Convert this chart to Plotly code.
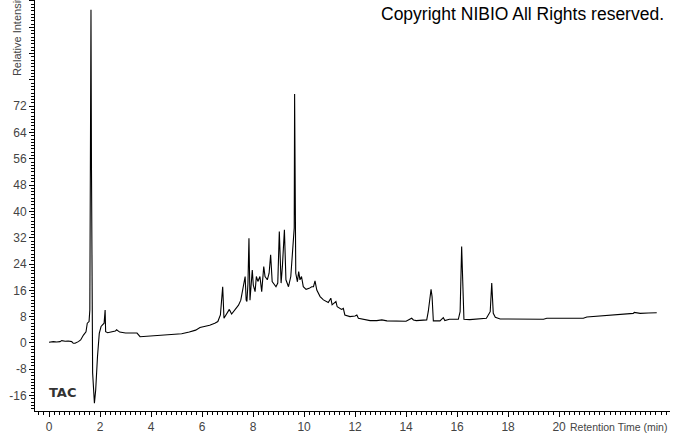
import plotly.graph_objects as go

# Retention time (min) and relative intensity
time_min = [
    0.00, 0.17, 0.30, 0.43, 0.50, 0.63, 0.75, 0.89, 0.95, 1.02, 1.15, 1.24, 1.35, 1.45, 1.50, 1.57,
    1.60, 1.625, 1.645, 1.665, 1.69, 1.71, 1.78, 1.83, 1.90, 1.97, 2.04, 2.16, 2.20, 2.22, 2.30,
    2.50, 2.60, 2.65, 2.77, 3.00, 3.18, 3.45, 3.57, 3.80, 4.00, 4.30, 4.60, 4.90, 5.20, 5.50,
    5.75, 5.92, 6.10, 6.30, 6.50, 6.62, 6.72, 6.81, 6.86, 6.95, 7.07, 7.16, 7.29, 7.43, 7.52,
    7.62, 7.69, 7.73, 7.76, 7.80, 7.84, 7.88, 7.92, 7.97, 8.01, 8.08, 8.13, 8.19, 8.27, 8.30,
    8.34, 8.42, 8.47, 8.56, 8.63, 8.69, 8.75, 8.90, 8.97, 9.03, 9.10, 9.15, 9.23, 9.29, 9.39,
    9.48, 9.54, 9.615, 9.63, 9.645, 9.675, 9.74, 9.79, 9.84, 9.90, 9.97, 10.08, 10.20, 10.30,
    10.37, 10.43, 10.50, 10.63, 10.76, 10.95, 11.05, 11.10, 11.25, 11.30, 11.47, 11.54, 11.60,
    11.80, 12.00, 12.07, 12.13, 12.39, 12.59, 12.85, 13.05, 13.25, 13.50, 13.76, 14.00, 14.22,
    14.29, 14.40, 14.68, 14.81, 14.87, 14.94, 14.98, 15.02, 15.07, 15.33, 15.46, 15.52, 15.70,
    16.05, 16.12, 16.18, 16.22, 16.27, 16.50, 16.77, 17.15, 17.30, 17.36, 17.42, 17.50, 17.69,
    18.00, 18.34, 18.80, 19.39, 19.52, 20.20, 20.95, 21.09, 21.70, 22.26, 22.60, 22.91, 22.95,
    23.18, 23.50, 23.83,
]
intensity = [
    0.2, 0.4, 0.3, 0.4, 0.7, 0.5, 0.6, 0.4, -0.1, -0.1, 0.4, 0.9, 2.4, 3.4, 6.0, 6.5,
    10.0, 65.8, 101.3, 52.6, 0.9, -9.1, -18.3, -14.3, -4.2, 2.9, 5.0, 6.0, 10.0, 3.4, 3.1,
    3.3, 3.6, 4.0, 3.3, 3.0, 3.0, 3.0, 1.9, 2.0, 2.1, 2.2, 2.4, 2.6, 2.8, 3.3,
    3.9, 4.7, 5.0, 5.4, 6.0, 6.5, 8.5, 17.1, 7.5, 8.5, 10.2, 8.8, 10.2, 11.5, 13.0,
    17.1, 20.2, 13.0, 12.6, 18.0, 31.8, 13.0, 17.1, 22.2, 17.6, 15.6, 20.2, 18.7, 20.2, 17.6,
    15.6, 23.2, 20.2, 19.2, 21.2, 26.8, 18.7, 17.1, 18.2, 33.9, 18.2, 23.2, 34.4, 19.2, 17.1,
    20.2, 27.3, 35.0, 75.7, 44.5, 21.2, 18.6, 21.7, 19.2, 20.2, 17.1, 16.3, 16.6, 17.1,
    17.1, 18.9, 16.1, 14.1, 13.1, 12.3, 13.6, 11.6, 12.6, 11.0, 10.2, 10.5, 8.5,
    8.0, 8.2, 8.5, 7.5, 7.2, 6.8, 6.8, 7.0, 6.7, 6.7, 6.5, 6.6, 7.5,
    7.0, 6.8, 6.8, 7.0, 9.5, 15.1, 16.3, 14.1, 6.7, 6.7, 7.7, 6.8, 7.2,
    7.2, 9.5, 29.3, 17.1, 7.2, 7.1, 7.2, 7.5, 9.5, 18.2, 9.0, 7.8, 7.3,
    7.3, 7.3, 7.3, 7.2, 7.5, 7.5, 7.5, 7.9, 8.2, 8.5, 8.7, 9.0, 9.3,
    9.0, 9.1, 9.2,
]

x_tick_vals = [0, 2, 4, 6, 8, 10, 12, 14, 16, 18, 20]
y_tick_vals = [-16, -8, 0, 8, 16, 24, 32, 40, 48, 56, 64, 72, 80, 88, 96, 104]
y_tick_text = ["-16", "-8", "0", "8", "16", "24", "32", "40", "48", "56", "64", "72", "", "", "", ""]

fig = go.Figure()
fig.add_trace(go.Scatter(
    x=time_min, y=intensity, mode="lines",
    line=dict(color="black", width=1.1), hoverinfo="skip", showlegend=False,
))

tick_font = dict(family="Arial, Liberation Sans, sans-serif", size=12, color="#444444")

fig.update_layout(
    width=673, height=433,
    margin=dict(l=35, r=3, t=0, b=22, autoexpand=False),
    paper_bgcolor="white", plot_bgcolor="white",
    showlegend=False,
    xaxis=dict(
        range=[-0.55, 24.35], showgrid=False, zeroline=False, automargin=False,
        showline=True, linecolor="black", linewidth=1,
        tickmode="array", tickvals=x_tick_vals,
        ticks="outside", ticklen=5, tickcolor="black", tickwidth=1,
        minor=dict(dtick=0.2, tick0=0, ticks="outside", ticklen=3, tickcolor="black", showgrid=False),
        tickfont=tick_font,
    ),
    yaxis=dict(
        range=[-20.7, 104.3], showgrid=False, zeroline=False, automargin=False,
        showline=True, linecolor="black", linewidth=1,
        tickmode="array", tickvals=y_tick_vals, ticktext=y_tick_text,
        ticks="outside", ticklen=5, tickcolor="black", tickwidth=1,
        minor=dict(dtick=1, tick0=0, ticks="outside", ticklen=3, tickcolor="black", showgrid=False),
        tickfont=tick_font,
    ),
    annotations=[
        dict(text="Copyright NIBIO All Rights reserved.", xref="paper", yref="paper",
             x=0.9937, y=0.966, xanchor="right", yanchor="middle", showarrow=False,
             font=dict(family="Arial, Liberation Sans, sans-serif", size=17.5, color="black")),
        dict(text="<b>TAC</b>", xref="paper", yref="paper",
             x=0.019, y=0.0438, xanchor="left", yanchor="middle", showarrow=False,
             font=dict(family="Tahoma, DejaVu Sans, sans-serif", size=13, color="#333333")),
        dict(text="Retention Time (min)", xref="paper", yref="paper",
             x=0.999, y=-0.039, xanchor="right", yanchor="middle", showarrow=False,
             font=dict(family="Arial, Liberation Sans, sans-serif", size=10.5, color="#444444")),
        dict(text="Relative Intensity", xref="paper", yref="paper", textangle=-90,
             x=-0.0283, y=0.81, xanchor="center", yanchor="bottom", showarrow=False,
             font=dict(family="Arial, Liberation Sans, sans-serif", size=11, color="#444444")),
    ],
)

fig.write_html(
    "out.html",
    config={"displayModeBar": False, "staticPlot": True},
    post_script="document.body.style.margin='0';document.body.style.padding='0';document.body.style.overflow='hidden';",
)
